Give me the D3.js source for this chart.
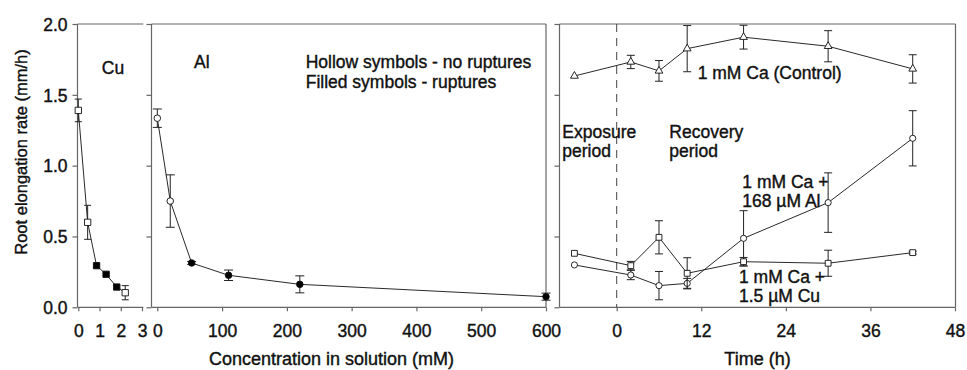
<!DOCTYPE html>
<html><head><meta charset="utf-8">
<script src="https://cdn.jsdelivr.net/npm/d3@7"></script>
<style>
html,body{margin:0;padding:0;background:#fff;}
svg text{font-family:"Liberation Sans",Arial,sans-serif;fill:#111;stroke:#111;stroke-width:0.4px;}
</style></head>
<body><svg id="c" width="967" height="370"></svg>
<script>
// ---- data ----
const cuConc   = [0, 0.44, 0.86, 1.31, 1.81, 2.21];
const cuRate   = [1.39, 0.60, 0.294, 0.233, 0.143, 0.103];
const cuErr    = [0.08, 0.12, 0.01, 0.01, 0.01, 0.05];
const cuFilled = [false, false, true, true, true, false];

const alConc   = [0, 20, 53, 110, 220, 600];
const alRate   = [1.335, 0.75, 0.313, 0.226, 0.162, 0.075];
const alErr    = [0.065, 0.185, 0.01, 0.037, 0.06, 0.025];
const alFilled = [false, false, true, true, true, true];

const times     = [-6, 2, 6, 10, 18, 30, 42];
const ctrlRate  = [1.633, 1.732, 1.669, 1.826, 1.907, 1.843, 1.683];
const ctrlErr   = [0, 0.047, 0.073, 0.163, 0.084, 0.11, 0.1];
const alRecRate = [0.299, 0.228, 0.153, 0.169, 0.487, 0.739, 1.193];
const alRecErr  = [0, 0.033, 0.1, 0.035, 0.195, 0.21, 0.195];
const cuRecRate = [0.381, 0.294, 0.494, 0.24, 0.322, 0.311, 0.386];
const cuRecErr  = [0, 0.03, 0.117, 0.11, 0.03, 0.092, 0.01];

const yTicks  = [0, 0.5, 1.0, 1.5, 2.0];
const cuTicks = [0, 1, 2, 3];
const alTicks = [0, 100, 200, 300, 400, 500, 600];
const tTicks  = [0, 12, 24, 36, 48];

// ---- layout ----
const svg = d3.select("#c");
const yTop = 24, yBot = 307.3;
const y = d3.scaleLinear().domain([0, 2]).range([yBot, yTop]);
const xCu = d3.scaleLinear().domain([0, 3]).range([78.3, 142]);
const xAl = d3.scaleLinear().domain([0, 600]).range([157.3, 546]);
const xT  = d3.scaleLinear().domain([0, 48]).range([616.7, 955]);
const frameCol = "#666";
const FS = "17.5px";

function frame(x0, x1, right, topLine) {
  const g = svg.append("g").attr("stroke", frameCol).attr("stroke-width", 1.2).attr("fill", "none");
  g.append("line").attr("x1", x0).attr("x2", x0).attr("y1", yTop).attr("y2", yBot);
  g.append("line").attr("x1", x0).attr("x2", x1).attr("y1", yBot).attr("y2", yBot);
  if (topLine) g.append("line").attr("x1", x0).attr("x2", x1).attr("y1", yTop).attr("y2", yTop);
  if (right) g.append("line").attr("x1", x1).attr("x2", x1).attr("y1", yTop).attr("y2", yBot);
}
function yAxisAt(x0, labels) {
  const ax = d3.axisLeft(y).tickValues(yTicks).tickSize(5).tickFormat(labels ? d3.format(".1f") : "");
  const g = svg.append("g").attr("transform", `translate(${x0},0)`).call(ax);
  g.select(".domain").remove();
  g.selectAll(".tick line").attr("stroke", frameCol).attr("stroke-width", 1.2);
  g.selectAll(".tick text").attr("font-size", FS).attr("font-family", "Liberation Sans, Arial").attr("fill", "#111").attr("x", -10).attr("dy", "0.36em");
}
function xAxis(scale, ticks) {
  const ax = d3.axisBottom(scale).tickValues(ticks).tickSize(4).tickFormat(d3.format("d"));
  const g = svg.append("g").attr("transform", `translate(0,${yBot})`).call(ax);
  g.select(".domain").remove();
  g.selectAll(".tick line").attr("stroke", frameCol).attr("stroke-width", 1.2);
  g.selectAll(".tick text").attr("font-size", FS).attr("font-family", "Liberation Sans, Arial").attr("fill", "#111").attr("y", 17).attr("dy", "0.71em");
}

// frames
frame(77.5, 143.3, false, true);
frame(151.5, 546, true, true);
frame(559.5, 955.5, true, true);
yAxisAt(77.5, true);
yAxisAt(151.5, false);
yAxisAt(559.5, false);
xAxis(xCu, cuTicks);
xAxis(xAl, alTicks);
xAxis(xT, tTicks);

// dashed line at time 0
svg.append("line").attr("x1", xT(0)).attr("x2", xT(0)).attr("y1", yTop).attr("y2", yBot)
  .attr("stroke", "#444").attr("stroke-width", 1).attr("stroke-dasharray", "8,6");

// generic series drawer
function series(xs, xScale, ys, errs, shape, filled, size, cap) {
  const pts = xs.map((v, i) => ({x: xScale(v), y: y(ys[i]), e: errs[i], v: ys[i], f: filled ? filled[i] : false}));
  const line = d3.line().x(d => d.x).y(d => d.y);
  svg.append("path").attr("d", line(pts)).attr("fill", "none").attr("stroke", "#111").attr("stroke-width", 0.9);
  const eg = svg.append("g").attr("stroke", "#222").attr("stroke-width", 1);
  pts.forEach(p => {
    if (p.e > 0) {
      const y1 = y(p.v + p.e), y2 = y(p.v - p.e);
      eg.append("line").attr("x1", p.x).attr("x2", p.x).attr("y1", y1).attr("y2", y2);
      eg.append("line").attr("x1", p.x - cap).attr("x2", p.x + cap).attr("y1", y1).attr("y2", y1);
      eg.append("line").attr("x1", p.x - cap).attr("x2", p.x + cap).attr("y1", y2).attr("y2", y2);
    }
  });
  const sym = d3.symbol().type(shape).size(size);
  svg.append("g").selectAll("path").data(pts).join("path")
    .attr("transform", d => `translate(${d.x},${d.y})`)
    .attr("d", sym)
    .attr("fill", d => d.f ? "#000" : "#fff")
    .attr("stroke", "#111").attr("stroke-width", 0.9);
}

series(cuConc, xCu, cuRate, cuErr, d3.symbolSquare, cuFilled, 40, 3.5);
series(alConc, xAl, alRate, alErr, d3.symbolCircle, alFilled, 34, 4.5);
series(times, xT, ctrlRate, ctrlErr, d3.symbolTriangle, null, 26, 4);
series(times, xT, alRecRate, alRecErr, d3.symbolCircle, null, 30, 4);
series(times, xT, cuRecRate, cuRecErr, d3.symbolSquare, null, 34, 4);

// ---- texts ----
function txt(x, yy, s, anchor, size) {
  return svg.append("text").attr("x", x).attr("y", yy).attr("font-size", size || FS)
    .attr("text-anchor", anchor || "start").text(s);
}
txt(113, 74, "Cu", "middle");
txt(194, 68, "Al");
txt(305.7, 68.3, "Hollow symbols - no ruptures");
txt(305.7, 88.3, "Filled symbols - ruptures");
txt(697.7, 79.3, "1 mM Ca (Control)");
txt(562.3, 137.7, "Exposure");
txt(562.3, 157.2, "period");
txt(669.3, 137.7, "Recovery");
txt(669.3, 157.2, "period");
txt(742.3, 187.7, "1 mM Ca +");
txt(742.3, 206.9, "168 µM Al");
txt(739, 282.7, "1 mM Ca +");
txt(739, 302.1, "1.5 µM Cu");

txt(331.5, 365, "Concentration in solution (mM)", "middle", "18px");
txt(757.5, 365, "Time (h)", "middle", "18px");
svg.append("text").attr("transform", "translate(27,152) rotate(-90)")
  .attr("text-anchor", "middle").attr("font-size", "16.5px").text("Root elongation rate (mm/h)");
</script>
</body></html>
